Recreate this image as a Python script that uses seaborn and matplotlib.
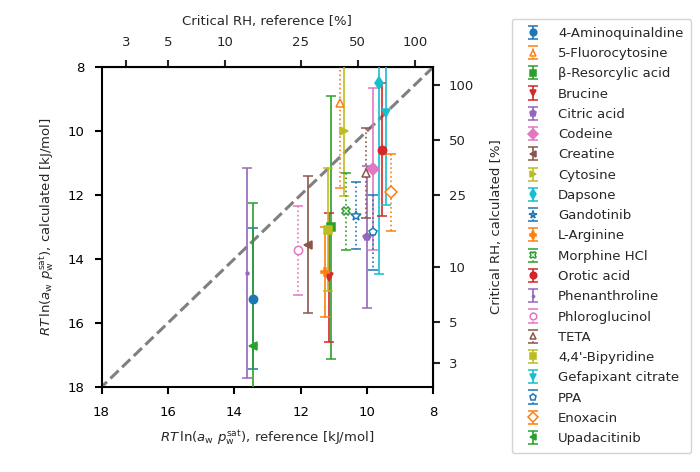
import numpy as np
import matplotlib
matplotlib.use("Agg")
import matplotlib.pyplot as plt
import seaborn as sns

# values (kJ/mol)
names = [
    "4-Aminoquinaldine", "5-Fluorocytosine", "β-Resorcylic acid", "Brucine",
    "Citric acid", "Codeine", "Creatine", "Cytosine", "Dapsone", "Gandotinib",
    "L-Arginine", "Morphine HCl", "Orotic acid", "Phenanthroline",
    "Phloroglucinol", "TETA", "4,4'-Bipyridine", "Gefapixant citrate", "PPA",
    "Enoxacin", "Upadacitinib",
]
g_reference = [13.44, 10.81, 11.07, 11.14, 10.00, 9.81, 11.78, 10.69, 9.63, 10.32,
               11.25, 10.64, 9.55, 13.61, 12.08, 10.02, 11.17, 9.42, 9.81, 9.26, 13.44]
g_calculated = [15.24, 9.11, 13.01, 14.57, 13.31, 11.19, 13.55, 9.99, 8.50, 12.65,
                14.41, 12.51, 10.58, 14.44, 13.73, 11.31, 13.08, 9.44, 13.17, 11.92, 16.72]
g_error = [2.21, 2.68, 4.12, 2.02, 2.21, 2.53, 2.14, 2.04, 5.96, 1.05,
           1.40, 1.20, 2.08, 3.27, 1.39, 1.41, 1.92, 2.86, 1.18, 1.19, 4.47]

axis_limits = [18, 8]
rh_ticks = [3, 5, 10, 25, 50, 100]

# marker style per compound; open markers get dotted error bars
markers = ["o", "^", "s", "v", "p", "D", "<", ">", "d", "*", "P", "X", "o", ".",
           "o", "^", "s", "v", "p", "D", "<"]
open_marker = [False, True, False, False, False, False, False, False, False, True,
               False, True, False, False, True, True, False, False, True, True, False]

RT = 8.314 * 298.15 / 1000  # kJ/mol
P_SAT = 0.03169  # bar, water at 25 C


def rh_to_g(rh):
    rh = np.asarray(rh, dtype=float)
    return -RT * np.log(np.clip(rh, 1e-9, None) / 100 * P_SAT)


def g_to_rh(g):
    return 100 * np.exp(-np.asarray(g, dtype=float) / RT) / P_SAT


sns.set_style("ticks")
plt.rcParams["font.family"] = ["DejaVu Sans"]
plt.rcParams["mathtext.fontset"] = "dejavusans"
plt.rcParams["font.size"] = 9.5

tab = sns.color_palette("tab10")
cycle = [tab[0], tab[1], tab[2], tab[3], tab[4], tab[6], tab[5], tab[8], tab[9]]

fig, ax = plt.subplots(figsize=(7, 4.72), dpi=100)
fig.subplots_adjust(left=0.145, right=0.619, bottom=0.18, top=0.858)

sns.lineplot(x=axis_limits, y=axis_limits, ax=ax, color="#808080",
             linestyle="--", linewidth=2.2, zorder=1)

for i, name in enumerate(names):
    color = cycle[i % len(cycle)]
    face = "white" if open_marker[i] else color
    ms = 4 if markers[i] == "." else 6
    if markers[i] == "*":
        ms = 7
    cont = ax.errorbar(
        g_reference[i], g_calculated[i], yerr=g_error[i],
        fmt=markers[i], color=color, mfc=face, mec=color, ms=ms,
        mew=1.1, capsize=3.5, elinewidth=1.2, capthick=1.2,
        label=name, zorder=3,
    )
    if open_marker[i]:
        cont[2][0].set_linestyle(":")

ax.set_xlim(axis_limits)
ax.set_ylim(axis_limits)
ax.set_xticks([18, 16, 14, 12, 10, 8])
ax.set_yticks([8, 10, 12, 14, 16, 18])
ax.set_xlabel(r"$RT\,\ln(a_\mathrm{w}\ p_\mathrm{w}^\mathrm{sat})$, reference [kJ/mol]",
              labelpad=7)
ax.set_ylabel(r"$RT\,\ln(a_\mathrm{w}\ p_\mathrm{w}^\mathrm{sat})$, calculated [kJ/mol]",
              labelpad=8)

for side in ["left", "right", "top", "bottom"]:
    ax.spines[side].set_linewidth(1.5)
    ax.spines[side].set_color("black")
ax.tick_params(direction="out", length=5, width=1.5, colors="black",
               labelsize=9.5, pad=7)
ax.tick_params(axis="x", pad=9)

top = ax.secondary_xaxis("top", functions=(g_to_rh, rh_to_g))
top.set_xticks(rh_ticks)
top.set_xticklabels([str(t) for t in rh_ticks])
top.set_xlabel("Critical RH, reference [%]", labelpad=8)
top.tick_params(direction="out", length=5, width=1.5, labelsize=9.5, pad=8)
top.minorticks_off()

right = ax.secondary_yaxis("right", functions=(g_to_rh, rh_to_g))
right.set_yticks(rh_ticks)
right.set_yticklabels([str(t) for t in rh_ticks])
right.set_ylabel("Critical RH, calculated [%]", labelpad=12)
right.tick_params(direction="out", length=5, width=1.5, labelsize=9.5, pad=6)
right.minorticks_off()

handles, labels = ax.get_legend_handles_labels()
fig.legend(handles, labels, loc="center left", bbox_to_anchor=(0.731, 0.5),
           bbox_transform=fig.transFigure, borderaxespad=0, fontsize=9.5,
           labelspacing=0.55, frameon=True, fancybox=True, edgecolor="#c8c8c8",
           handletextpad=0.9, borderpad=0.6, markerscale=0.8)

fig.savefig("out.png", dpi=100)
